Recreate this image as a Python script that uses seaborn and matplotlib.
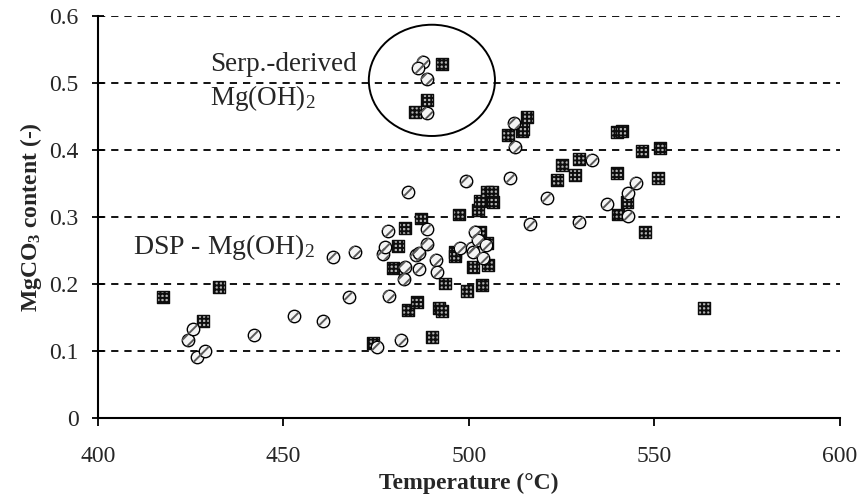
import numpy as np
import pandas as pd
import seaborn as sns
import matplotlib.pyplot as plt
from matplotlib.patches import Ellipse

# DSP samples, square markers (dark grid fill)
dsp_sq_temp = [417.5, 432.6, 428.3, 474.1, 479.5, 480.9, 482.7, 483.6, 486.0, 487.0,
               490.0, 491.9, 492.7, 493.5, 496.2, 496.2, 497.3, 499.5, 501.1, 502.4,
               503.0, 503.0, 503.5, 504.9, 504.9, 505.1, 506.2, 506.5, 510.5, 514.3,
               514.6, 515.6, 523.7, 525.1, 528.6, 529.6, 539.9, 541.2, 539.9, 540.2,
               542.6, 546.6, 547.4, 550.9, 551.5, 563.3]
dsp_sq_mgco3 = [0.181, 0.196, 0.145, 0.112, 0.224, 0.257, 0.284, 0.161, 0.173, 0.298,
                0.121, 0.164, 0.160, 0.201, 0.248, 0.242, 0.304, 0.190, 0.225, 0.310,
                0.324, 0.278, 0.199, 0.261, 0.337, 0.228, 0.337, 0.322, 0.422, 0.428,
                0.431, 0.449, 0.355, 0.378, 0.363, 0.387, 0.427, 0.428, 0.366, 0.304,
                0.322, 0.399, 0.278, 0.358, 0.403, 0.164]

# DSP samples, circle markers (hatched)
dsp_circ_temp = [424.3, 425.6, 426.7, 428.8, 442.0, 452.8, 460.6, 463.3, 467.7, 469.3,
                 475.2, 476.8, 477.4, 478.2, 478.4, 481.7, 482.5, 482.7, 483.6, 485.7,
                 486.5, 486.5, 488.7, 488.7, 491.1, 491.4, 497.6, 499.2, 500.8, 501.1,
                 501.6, 502.4, 503.8, 504.6, 511.0, 512.1, 512.4, 516.4, 521.0, 529.6,
                 533.2, 537.2, 542.9, 542.9, 545.0]
dsp_circ_mgco3 = [0.116, 0.133, 0.091, 0.100, 0.124, 0.152, 0.145, 0.240, 0.181, 0.248,
                  0.106, 0.245, 0.255, 0.279, 0.182, 0.116, 0.207, 0.225, 0.337, 0.243,
                  0.246, 0.222, 0.282, 0.260, 0.236, 0.218, 0.254, 0.354, 0.254, 0.248,
                  0.278, 0.266, 0.239, 0.258, 0.358, 0.440, 0.404, 0.290, 0.328, 0.293,
                  0.385, 0.319, 0.336, 0.302, 0.351]

# serpentinite-derived Mg(OH)2
serp_sq_temp = [492.7, 488.7, 485.4]
serp_sq_mgco3 = [0.528, 0.475, 0.457]
serp_circ_temp = [487.6, 486.3, 488.7, 488.7]
serp_circ_mgco3 = [0.532, 0.522, 0.506, 0.455]

xticks = [400, 450, 500, 550, 600]
yticks = [0, 0.1, 0.2, 0.3, 0.4, 0.5, 0.6]
ytick_labels = ["0", "0.1", "0.2", "0.3", "0.4", "0.5", "0.6"]

sns.set_theme(style="white")
plt.rcParams['font.family'] = ['Liberation Serif', 'DejaVu Serif']
plt.rcParams['mathtext.default'] = 'regular'
plt.rcParams['hatch.linewidth'] = 1.4

squares = pd.DataFrame({"temp": dsp_sq_temp + serp_sq_temp,
                        "mgco3": dsp_sq_mgco3 + serp_sq_mgco3})
circles = pd.DataFrame({"temp": dsp_circ_temp + serp_circ_temp,
                        "mgco3": dsp_circ_mgco3 + serp_circ_mgco3})

fig, ax = plt.subplots(figsize=(8.61, 4.96), dpi=100)
fig.subplots_adjust(left=0.1138, right=0.9756, bottom=0.157, top=0.9677)

# squares: light fill with a dense dark grid -> dark square with light dots
plt.rcParams['hatch.color'] = '#0d0d0d'
sns.scatterplot(data=squares, x="temp", y="mgco3", ax=ax, marker="s", s=72,
                color='#b4b4b4', edgecolor='#0d0d0d', linewidth=1.0,
                hatch='++++', zorder=3, legend=False)

# circles: white fill, black edge, grey diagonal hatch on top
sns.scatterplot(data=circles, x="temp", y="mgco3", ax=ax, marker="o", s=80,
                color='#f4f4f4', edgecolor='black', linewidth=1.0,
                zorder=4, legend=False)
plt.rcParams['hatch.color'] = '#5a5a5a'
sns.scatterplot(data=circles, x="temp", y="mgco3", ax=ax, marker="o", s=80,
                facecolor='none', edgecolor='#5a5a5a', linewidth=0,
                hatch='///', zorder=5, legend=False)

ax.add_patch(Ellipse((490, 0.504), width=34, height=0.166, fill=False,
                     edgecolor='black', lw=1.4, zorder=6))

ax.text(430.2, 0.527, "Serp.-derived", fontsize=19.5, ha='left', va='center')
ax.text(430.2, 0.477, "Mg(OH)$_2$", fontsize=19.5, ha='left', va='center')
ax.text(409.4, 0.255, "DSP - Mg(OH)$_2$", fontsize=20, ha='left', va='center')

ax.set_xlim(400, 600)
ax.set_ylim(0, 0.6)
ax.set_xticks(xticks)
ax.set_yticks(yticks)
ax.set_yticklabels(ytick_labels)

ax.yaxis.grid(True, color='black', lw=1.3, ls=(0, (4, 3.3)))
ax.xaxis.grid(False)
ax.set_axisbelow(True)

for side in ['top', 'right']:
    ax.spines[side].set_visible(False)
for side in ['left', 'bottom']:
    ax.spines[side].set_color('black')
    ax.spines[side].set_linewidth(1.5)

ax.tick_params(axis='y', direction='inout', length=8, width=1.3, color='black',
               labelsize=17, pad=10, left=True)
ax.tick_params(axis='x', direction='out', length=6, width=1.3, color='black',
               labelsize=17, pad=14, bottom=True)

ax.set_xlabel("Temperature (°C)", fontsize=17, fontweight='bold', labelpad=4)
ax.set_ylabel("MgCO$_3$ content (-)", fontsize=17, fontweight='bold', labelpad=4)

plt.savefig("out.png", dpi=100)
